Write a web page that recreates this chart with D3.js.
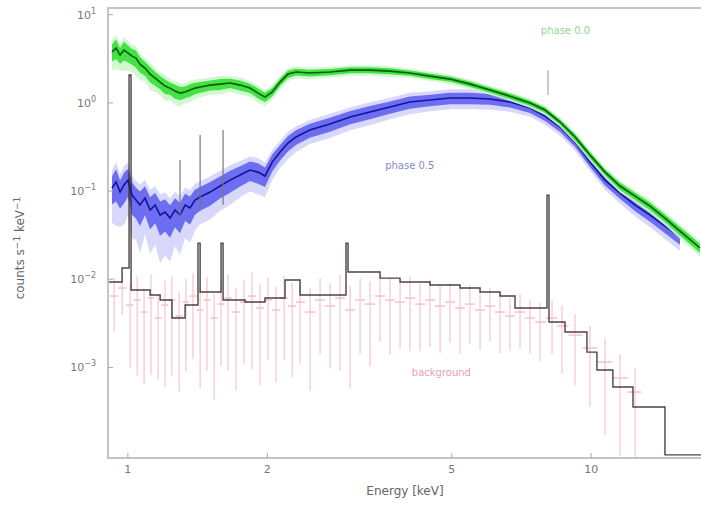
<!DOCTYPE html>
<html>
<head>
<meta charset="utf-8">
<script src="https://cdn.jsdelivr.net/npm/d3@7"></script>
<style>
  body { margin: 0; background: #fff; }
  svg { display: block; font-family: "DejaVu Sans", sans-serif; }
</style>
</head>
<body>
<svg id="chart" width="701" height="506"></svg>
<script>
// axes
const xTicks = [1, 2, 5, 10];
const yExps = [1, 0, -1, -2, -3];
const xDomain = [0.906, 17.26];
const yDomain = [9.4e-5, 11.9];

// phase 0.0 (green)
const greenE = [0.924,0.943,0.962,0.981,1.001,1.021,1.041,1.062,1.089,1.117,1.145,1.174,1.203,1.233,1.264,1.296,1.329,1.362,1.396,1.432,1.505,1.581,1.662,1.747,1.835,1.909,1.977,2.049,2.131,2.216,2.306,2.47,2.73,3.02,3.33,3.68,4.06,4.49,4.96,5.48,6.05,6.68,7.38,7.95,8.57,9.23,9.94,10.71,11.54,12.44,13.4,14.43,15.55,17.17];
const greenRate = [3.77,4.18,3.48,3.97,3.67,3.39,3.22,2.75,2.48,2.12,1.91,1.72,1.55,1.47,1.36,1.29,1.33,1.40,1.47,1.51,1.59,1.63,1.68,1.59,1.47,1.29,1.16,1.33,1.72,2.12,2.24,2.18,2.24,2.35,2.35,2.29,2.18,2.01,1.86,1.63,1.40,1.19,0.995,0.829,0.606,0.410,0.256,0.164,0.114,0.0877,0.0676,0.0494,0.0352,0.0226];
const greenRelErr = [0.22,0.25,0.2,0.24,0.22,0.2,0.22,0.2,0.18,0.2,0.18,0.17,0.19,0.16,0.18,0.17,0.15,0.16,0.15,0.14,0.13,0.14,0.12,0.13,0.12,0.13,0.12,0.11,0.1,0.1,0.09,0.09,0.08,0.08,0.08,0.08,0.07,0.07,0.07,0.07,0.07,0.07,0.07,0.07,0.07,0.08,0.08,0.08,0.09,0.09,0.1,0.1,0.11,0.12];
const greenLineE = [8.07];
const greenLineBase = [1.23];
const greenLinePeak = [2.35];

// phase 0.5 (blue)
const blueE = [0.924,0.943,0.962,0.981,1.001,1.021,1.041,1.062,1.089,1.117,1.145,1.174,1.203,1.233,1.264,1.296,1.329,1.362,1.396,1.432,1.505,1.581,1.662,1.747,1.835,1.909,1.977,2.049,2.131,2.216,2.306,2.47,2.73,3.02,3.33,3.68,4.06,4.49,4.96,5.48,6.05,6.68,7.38,7.95,8.57,9.23,9.94,10.71,11.54,12.44,13.4,14.43,15.55];
const blueRate = [0.108,0.1265,0.0974,0.117,0.133,0.090,0.079,0.0694,0.0833,0.0609,0.0694,0.0535,0.0578,0.0494,0.0609,0.0535,0.0694,0.0642,0.079,0.0855,0.0974,0.114,0.133,0.152,0.173,0.164,0.148,0.213,0.277,0.350,0.410,0.491,0.575,0.690,0.786,0.896,1.021,1.076,1.134,1.134,1.104,1.021,0.873,0.708,0.532,0.359,0.213,0.133,0.0949,0.0694,0.0535,0.0401,0.0301];
const blueRelErr = [0.35,0.4,0.35,0.38,0.35,0.4,0.38,0.42,0.36,0.4,0.38,0.42,0.4,0.4,0.36,0.38,0.34,0.35,0.32,0.3,0.3,0.28,0.28,0.26,0.25,0.26,0.25,0.22,0.2,0.2,0.19,0.18,0.18,0.17,0.17,0.16,0.16,0.15,0.15,0.15,0.14,0.13,0.12,0.12,0.12,0.12,0.12,0.13,0.14,0.15,0.16,0.17,0.18];
const blueLineE = [1.296, 1.432, 1.605];
const blueLineBase = [0.047, 0.06, 0.07];
const blueLinePeak = [0.225, 0.431, 0.491];

// black binned spectrum
const blackEdges = [0.906,0.9716,1.006,1.016,1.117,1.174,1.245,1.329,1.417,1.432,1.589,1.605,1.790,1.977,2.184,2.353,2.957,2.987,3.502,3.868,4.49,5.212,5.756,6.358,6.849,8.028,8.108,8.780,9.793,10.29,11.14,12.31,14.43,17.26];
const blackRate = [0.00929,0.0134,2.07,0.00754,0.00662,0.00581,0.00363,0.0051,0.0257,0.00716,0.0257,0.00581,0.00551,0.00612,0.0098,0.00662,0.0257,0.0121,0.0103,0.00929,0.0086,0.00795,0.00716,0.00645,0.00472,0.090,0.00327,0.00252,0.00149,0.000934,0.000599,0.000356,0.000102];

// background (red)
const redE = [0.934,0.972,1.011,1.047,1.084,1.122,1.162,1.203,1.245,1.290,1.335,1.382,1.432,1.482,1.535,1.589,1.645,1.712,1.781,1.854,1.929,2.007,2.088,2.174,2.262,2.353,2.473,2.599,2.732,2.871,3.017,3.171,3.332,3.502,3.680,3.868,4.064,4.272,4.488,4.719,4.958,5.212,5.475,5.756,6.047,6.358,6.679,7.022,7.379,7.755,8.231,8.650,9.23,9.94,10.71,11.54,12.44];
const redRate = [0.00645,0.00795,0.0051,0.00581,0.00425,0.00612,0.00363,0.0051,0.00581,0.00383,0.00551,0.00645,0.00448,0.00581,0.00363,0.00523,0.00612,0.00425,0.00551,0.00645,0.00472,0.00581,0.00448,0.00612,0.00497,0.00551,0.00425,0.00581,0.00497,0.00612,0.00448,0.00581,0.00523,0.00645,0.00581,0.00551,0.00612,0.00523,0.00581,0.00497,0.00551,0.00472,0.00523,0.00448,0.00497,0.00425,0.00383,0.00425,0.00363,0.00327,0.00363,0.00295,0.00233,0.00166,0.00115,0.000758,0.000526];
const redErr = [0.0039,0.0040,0.0041,0.0050,0.0036,0.0053,0.0029,0.0045,0.0050,0.0033,0.0046,0.0052,0.0039,0.0049,0.0032,0.0042,0.0052,0.0037,0.0044,0.0055,0.0041,0.0046,0.0038,0.0049,0.0042,0.0044,0.0037,0.0044,0.0040,0.0052,0.0039,0.0044,0.0042,0.0045,0.0044,0.0039,0.0046,0.0037,0.0041,0.0035,0.0036,0.0033,0.0034,0.0029,0.0030,0.0028,0.0023,0.0026,0.0022,0.0021,0.0022,0.0021,0.0017,0.0013,0.00098,0.00066,0.00046];

const labels = [
  {text: 'phase 0.0', E: 8.8, v: 6.0, color: '#8fd88f'},
  {text: 'phase 0.5', E: 4.06, v: 0.178, color: '#8888c8'},
  {text: 'background', E: 4.75, v: 0.0008, color: '#e8a0ae'}
];

const svg = d3.select('#chart');
const x = d3.scaleLog().domain(xDomain).range([108, 701]);
const y = d3.scaleLog().domain(yDomain).range([458, 8]);
const yc = v => y(Math.max(v, yDomain[0] * 0.5));

svg.append('defs').append('clipPath').attr('id', 'plot')
  .append('rect')
  .attr('x', 108).attr('y', 8).attr('width', 600).attr('height', 450);

const g = svg.append('g').attr('clip-path', 'url(#plot)');
const idx = arr => d3.range(arr.length);

// background error bars
const redLo = i => i === 0 ? redE[0] / 1.02 : Math.sqrt(redE[i - 1] * redE[i]);
const redHi = i => i === redE.length - 1 ? redE[i] * 1.03 : Math.sqrt(redE[i] * redE[i + 1]);
g.selectAll('.rv').data(idx(redE)).join('line')
  .attr('x1', i => x(redE[i])).attr('x2', i => x(redE[i]))
  .attr('y1', i => yc(redRate[i] - redErr[i])).attr('y2', i => yc(redRate[i] + redErr[i]))
  .attr('stroke', '#f5b8c3').attr('stroke-width', 1);
g.selectAll('.rh').data(idx(redE)).join('line')
  .attr('x1', i => x(redLo(i))).attr('x2', i => x(redHi(i)))
  .attr('y1', i => y(redRate[i])).attr('y2', i => y(redRate[i]))
  .attr('stroke', '#f6c0ca').attr('stroke-width', 1.5);

// band helper
function band(E, rate, err, scale, fill, op) {
  const area = d3.area()
    .x((d, i) => x(E[i]))
    .y0((d, i) => yc(rate[i] * (1 - err[i] * scale)))
    .y1((d, i) => y(rate[i] * (1 + err[i] * scale)));
  g.append('path').datum(rate).attr('d', area)
    .attr('fill', fill).attr('opacity', op);
}
const lineOf = E => d3.line().x((d, i) => x(E[i])).y(d => y(d));

// blue
band(blueE, blueRate, blueRelErr, 1.7, '#d4d4fb', 0.9);
band(blueE, blueRate, blueRelErr, 1, '#5a5af0', 0.85);
g.append('path').datum(blueRate).attr('d', lineOf(blueE))
  .attr('fill', 'none').attr('stroke', '#12129a').attr('stroke-width', 1.6);
g.selectAll('.bl').data(idx(blueLineE)).join('line')
  .attr('x1', i => x(blueLineE[i])).attr('x2', i => x(blueLineE[i]))
  .attr('y1', i => y(blueLineBase[i])).attr('y2', i => y(blueLinePeak[i]))
  .attr('stroke', '#777').attr('stroke-width', 1.2);

// green
band(greenE, greenRate, greenRelErr, 1.7, '#cdf7cd', 0.9);
band(greenE, greenRate, greenRelErr, 1, '#33e033', 0.9);
g.append('path').datum(greenRate).attr('d', lineOf(greenE))
  .attr('fill', 'none').attr('stroke', '#0b5a0b').attr('stroke-width', 1.6);
g.selectAll('.gl').data(idx(greenLineE)).join('line')
  .attr('x1', i => x(greenLineE[i])).attr('x2', i => x(greenLineE[i]))
  .attr('y1', i => y(greenLineBase[i])).attr('y2', i => y(greenLinePeak[i]))
  .attr('stroke', '#aaa').attr('stroke-width', 1.2);

// black step spectrum
const stepPts = blackRate.map((v, i) => [blackEdges[i], v]);
stepPts.push([blackEdges[blackEdges.length - 1], blackRate[blackRate.length - 1]]);
g.append('path').datum(stepPts)
  .attr('d', d3.line().curve(d3.curveStepAfter).x(d => x(d[0])).y(d => yc(d[1])))
  .attr('fill', 'none').attr('stroke', '#2a2222').attr('stroke-width', 1.4)
  .attr('opacity', 0.85);

// labels
svg.selectAll('.lab').data(labels).join('text')
  .attr('x', d => x(d.E)).attr('y', d => y(d.v))
  .attr('text-anchor', 'middle').attr('font-size', 10)
  .attr('fill', d => d.color).text(d => d.text);

// frame
svg.append('path')
  .attr('d', 'M720,8H108V458H720')
  .attr('fill', 'none').attr('stroke', '#c4c4c4').attr('stroke-width', 2);

// x ticks
const xt = svg.selectAll('.xt').data(xTicks).join('g')
  .attr('transform', d => `translate(${x(d)},0)`);
xt.append('line').attr('y1', 458).attr('y2', 453).attr('stroke', '#aaa');
xt.append('text').attr('y', 473).attr('text-anchor', 'middle')
  .attr('font-size', 11).attr('fill', '#777').text(d => d);

// y ticks
const yt = svg.selectAll('.yt').data(yExps).join('g')
  .attr('transform', d => `translate(0,${y(Math.pow(10, d))})`);
yt.append('line').attr('x1', 108).attr('x2', 113).attr('stroke', '#aaa');
const ytx = yt.append('text').attr('x', 96).attr('y', 4)
  .attr('text-anchor', 'end').attr('font-size', 11).attr('fill', '#777');
ytx.append('tspan').text('10');
ytx.append('tspan').attr('dy', -5).attr('font-size', 8)
  .text(d => d < 0 ? '\u2212' + (-d) : d);

// axis titles
svg.append('text').attr('x', 405).attr('y', 495).attr('text-anchor', 'middle')
  .attr('font-size', 12).attr('fill', '#666').text('Energy [keV]');
const yTitle = svg.append('text')
  .attr('transform', 'translate(24,248) rotate(-90)')
  .attr('text-anchor', 'middle').attr('font-size', 12).attr('fill', '#666');
yTitle.append('tspan').text('counts s');
yTitle.append('tspan').attr('dy', -4).attr('font-size', 9).text('\u22121');
yTitle.append('tspan').attr('dy', 4).text(' keV');
yTitle.append('tspan').attr('dy', -4).attr('font-size', 9).text('\u22121');
</script>
</body>
</html>
